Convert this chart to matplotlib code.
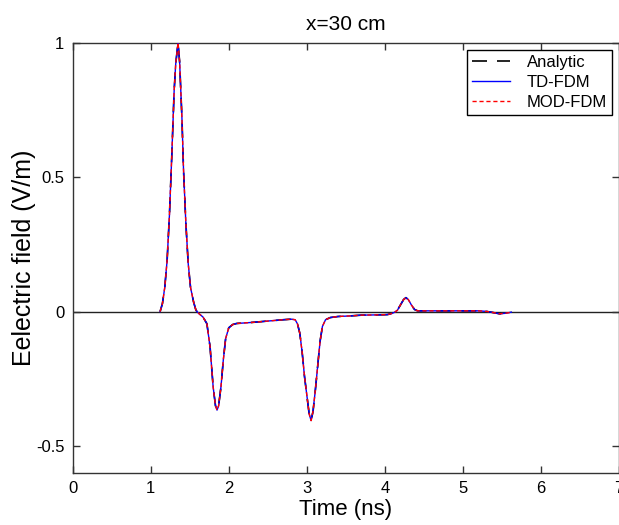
import numpy as np
import matplotlib
matplotlib.use('Agg')
import matplotlib.pyplot as plt

# ---------------------------------------------------------------------------
# Data (time in ns, field in V/m)
# ---------------------------------------------------------------------------
time_ns = [1.12, 1.15, 1.18, 1.21, 1.24, 1.27, 1.30, 1.32, 1.35, 1.37,
           1.40, 1.42, 1.45, 1.48, 1.51, 1.55, 1.58, 1.62, 1.67, 1.72,
           1.76, 1.80, 1.83, 1.85, 1.87, 1.90, 1.93, 1.96, 2.00, 2.05,
           2.10, 2.30, 2.50, 2.70, 2.80, 2.85, 2.88, 2.91, 2.94, 2.97,
           3.00, 3.03, 3.055, 3.08, 3.11, 3.14, 3.17, 3.20, 3.24, 3.30,
           3.40, 3.55, 3.70, 3.90, 4.03, 4.08, 4.12, 4.16, 4.20, 4.24,
           4.27, 4.30, 4.34, 4.38, 4.42, 4.80, 5.20, 5.30, 5.40, 5.47,
           5.55, 5.62]
e_analytic = [0.000, 0.030, 0.090, 0.190, 0.360, 0.580, 0.820, 0.920, 1.000, 0.930,
              0.720, 0.530, 0.330, 0.180, 0.090, 0.035, 0.005, -0.008, -0.020, -0.045,
              -0.130, -0.280, -0.350, -0.366, -0.350, -0.280, -0.180, -0.100, -0.060, -0.048,
              -0.044, -0.040, -0.035, -0.030, -0.028, -0.030, -0.045, -0.080, -0.150, -0.240,
              -0.310, -0.380, -0.405, -0.370, -0.290, -0.200, -0.110, -0.055, -0.030, -0.022,
              -0.018, -0.016, -0.013, -0.012, -0.011, -0.008, -0.003, 0.005, 0.025, 0.045,
              0.052, 0.045, 0.025, 0.008, 0.003, 0.003, 0.003, 0.001, -0.004, -0.008,
              -0.006, -0.002]
# the two numerical schemes lie on top of the analytic curve
e_td_fdm = list(e_analytic)
e_mod_fdm = list(e_analytic)

x_ticks = [0, 1, 2, 3, 4, 5, 6, 7]
y_ticks = [-0.5, 0, 0.5, 1]
y_tick_labels = ['-0.5', '0', '0.5', '1']

plt.rcParams['font.family'] = ['Liberation Sans', 'DejaVu Sans']

fig = plt.figure(figsize=(6.19, 5.25), dpi=100)
fig.patch.set_facecolor('white')
ax = fig.add_axes([0.1174, 0.099, 0.8826, 0.8197])

# zero reference line
ax.plot([0, 7], [0, 0], color='#222222', linewidth=1.0, zorder=1)

ax.plot(time_ns, e_analytic, color='black', linewidth=1.2,
        dashes=(9, 6), label='Analytic', zorder=2)
ax.plot(time_ns, e_td_fdm, color='blue', linewidth=1.0,
        label='TD-FDM', zorder=3)
ax.plot(time_ns, e_mod_fdm, color='red', linewidth=1.0,
        dashes=(3, 2), label='MOD-FDM', zorder=4)

ax.set_xlim(0, 7)
ax.set_ylim(-0.6, 1)
ax.set_xticks(x_ticks)
ax.set_yticks(y_ticks)
ax.set_yticklabels(y_tick_labels)

ax.tick_params(direction='in', length=5, width=1, top=True, right=True,
               labelsize=12, colors='#333333', labelcolor='black', pad=6)
for spine in ax.spines.values():
    spine.set_color('#333333')
    spine.set_linewidth(1.0)

ax.set_title('x=30 cm', fontsize=15, pad=9)
ax.set_xlabel('Time (ns)', fontsize=16, labelpad=2)
ax.set_ylabel('Eelectric field (V/m)', fontsize=18, labelpad=0)

leg = ax.legend(loc='upper right', bbox_to_anchor=(0.987, 0.983),
                borderaxespad=0, fancybox=False, framealpha=1,
                edgecolor='black', fontsize=12, handlelength=2.3,
                handletextpad=1.0, labelspacing=0.3, borderpad=0.3)
leg.get_frame().set_linewidth(1.0)

fig.savefig('out.png', dpi=100, facecolor='white')
